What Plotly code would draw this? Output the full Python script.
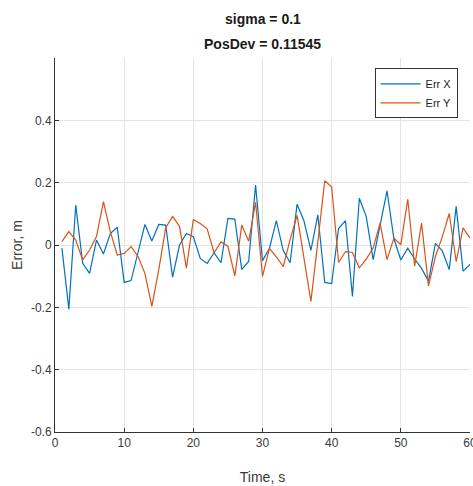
import plotly.graph_objects as go

time_s = list(range(1, 61))

err_x = [-0.010, -0.206, 0.128, -0.059, -0.091, 0.016, -0.029, 0.037, 0.057, -0.120,
         -0.114, -0.020, 0.066, 0.013, 0.066, 0.064, -0.103, 0.000, 0.037, 0.027,
         -0.043, -0.059, -0.025, -0.057, 0.085, 0.083, -0.078, -0.053, 0.192, -0.050,
         -0.011, 0.078, -0.018, -0.057, 0.131, 0.077, -0.017, 0.097, -0.120, -0.124,
         0.053, 0.078, -0.165, 0.150, 0.091, -0.047, 0.066, 0.174, 0.020, -0.048,
         -0.010, -0.045, -0.075, -0.116, 0.005, -0.019, -0.079, 0.124, -0.084, -0.062]

err_y = [0.011, 0.043, 0.016, -0.048, -0.016, 0.027, 0.139, 0.043, -0.032, -0.027,
         -0.005, -0.037, -0.091, -0.197, -0.080, 0.055, 0.092, 0.060, -0.074, 0.081,
         0.069, 0.052, -0.025, 0.010, -0.004, -0.099, 0.064, 0.012, 0.137, -0.101,
         -0.011, -0.038, -0.069, 0.018, 0.095, -0.050, -0.181, 0.010, 0.206, 0.186,
         -0.056, -0.021, -0.024, -0.073, -0.045, -0.010, 0.070, -0.047, 0.022, 0.001,
         0.147, -0.068, 0.070, -0.131, -0.037, 0.027, 0.101, -0.053, 0.055, 0.022]

x_ticks = [0, 10, 20, 30, 40, 50, 60]
y_ticks = [-0.6, -0.4, -0.2, 0, 0.2, 0.4]
y_tick_labels = ["-0.6", "-0.4", "-0.2", "0", "0.2", "0.4"]

title_lines = ["sigma = 0.1", "PosDev = 0.11545"]

FONT = "Liberation Sans, Arial, sans-serif"

fig = go.Figure()
fig.add_trace(go.Scatter(x=time_s, y=err_x, mode="lines", name="Err X",
                         line=dict(color="#0072BD", width=1.2)))
fig.add_trace(go.Scatter(x=time_s, y=err_y, mode="lines", name="Err Y",
                         line=dict(color="#D95319", width=1.2)))

axis_font = dict(family=FONT, size=12, color="#3a3a3a")

W, H = 473, 486
ML, MR, MT, MB = 55, 2.5, 57.5, 53.5
plot_h = H - MT - MB

annotations = []
for line_text, y_px in zip(title_lines, [18, 43]):
    annotations.append(dict(
        text="<b>" + line_text + "</b>", xref="paper", yref="paper",
        x=0.5, y=(H - MB - y_px) / plot_h, xanchor="center", yanchor="middle",
        showarrow=False, font=dict(family=FONT, size=14, color="#1a1a1a")))

fig.update_layout(
    width=W, height=H,
    margin=dict(l=ML, r=MR, t=MT, b=MB, autoexpand=False),
    paper_bgcolor="white", plot_bgcolor="white",
    annotations=annotations,
    showlegend=True,
    legend=dict(x=0.77, y=0.972, xanchor="left", yanchor="top",
                bgcolor="white", bordercolor="#333333", borderwidth=1,
                font=dict(family=FONT, size=11, color="#222222"),
                tracegroupgap=0, itemwidth=40),
    xaxis=dict(range=[0, 60], tickvals=x_ticks, ticks="inside", ticklen=4,
               tickcolor="#333333", showline=True, linecolor="#333333", linewidth=1,
               showgrid=True, gridcolor="#e3e3e3", gridwidth=1, zeroline=False,
               tickfont=axis_font, automargin=False, ticklabeloverflow="allow",
               title=dict(text="Time, s", font=dict(family=FONT, size=14, color="#3a3a3a"), standoff=22)),
    yaxis=dict(range=[-0.6, 0.6], tickvals=y_ticks, ticktext=y_tick_labels, ticks="inside", ticklen=4,
               tickcolor="#333333", showline=True, linecolor="#333333", linewidth=1,
               showgrid=True, gridcolor="#e3e3e3", gridwidth=1, zeroline=False,
               tickfont=axis_font, automargin=False, ticklabeloverflow="allow",
               title=dict(text="Error, m", font=dict(family=FONT, size=14, color="#3a3a3a"), standoff=5)),
)

fig.write_html("out.html", config={"displayModeBar": False},
               post_script="document.body.style.margin='0px';")
